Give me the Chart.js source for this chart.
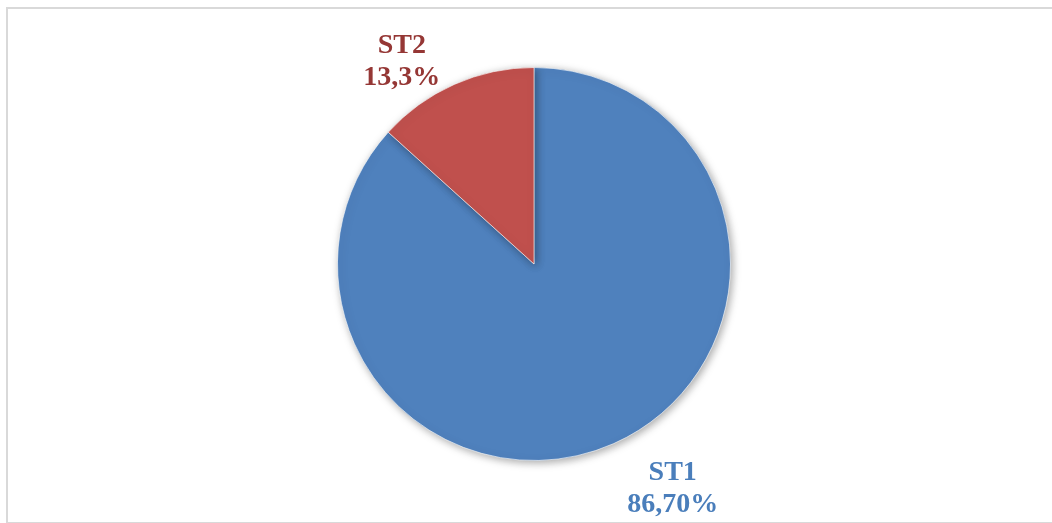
<!DOCTYPE html>
<html lang="en">
<head>
  <meta charset="UTF-8" />
  <title>ST1 / ST2</title>
  <script src="https://cdn.jsdelivr.net/npm/chart.js"></script>
  <style>
    html, body {
      margin: 0;
      padding: 0;
      background: #ffffff;
      overflow: hidden;
      width: 1052px;
      height: 523px;
    }
    .frame {
      position: absolute;
      left: 6px;
      top: 7px;
      width: 1200px;
      height: 513px;
      border-style: solid;
      border-color: #d9d9d9;
      border-width: 2px 0 2px 2px;
    }
    canvas {
      position: absolute;
      left: 0;
      top: 0;
    }
  </style>
</head>
<body>
  <div class="frame"></div>
  <canvas id="pieChart" width="1052" height="523"></canvas>

  <script>
    const labels = ['ST1', 'ST2'];
    const values = [86.7, 13.3];
    const valueTexts = ['86,70%', '13,3%'];
    const sliceColors = ['#4f81bd', '#c0504d'];
    const textColors = ['#4a7ebb', '#953735'];

    // ombre douce sous le camembert
    const shadowPlugin = {
      id: 'pieShadow',
      beforeDatasetDraw(chart) {
        const ctx = chart.ctx;
        ctx.save();
        ctx.shadowColor = 'rgba(0,0,0,0.35)';
        ctx.shadowBlur = 9;
        ctx.shadowOffsetX = 2;
        ctx.shadowOffsetY = 2;
      },
      afterDatasetDraw(chart) {
        chart.ctx.restore();
      }
    };

    // étiquettes à l'extérieur des parts
    const labelShift = [-0.137, -0.158];
    const labelDist = [1.34, 1.235];
    const outsideLabels = {
      id: 'outsideLabels',
      afterDatasetsDraw(chart) {
        const ctx = chart.ctx;
        const meta = chart.getDatasetMeta(0);
        ctx.save();
        ctx.font = 'bold 28px "Liberation Serif", serif';
        ctx.textAlign = 'center';
        ctx.textBaseline = 'middle';
        meta.data.forEach((arc, i) => {
          const mid = (arc.startAngle + arc.endAngle) / 2 + labelShift[i];
          const dist = arc.outerRadius * labelDist[i];
          const x = arc.x + Math.cos(mid) * dist;
          const y = arc.y + Math.sin(mid) * dist;
          ctx.fillStyle = textColors[i];
          ctx.fillText(labels[i], x, y - 15);
          ctx.fillText(valueTexts[i], x, y + 17);
        });
        ctx.restore();
      }
    };

    new Chart(document.getElementById('pieChart').getContext('2d'), {
      type: 'pie',
      data: {
        labels: labels,
        datasets: [{
          data: values,
          backgroundColor: sliceColors,
          borderColor: 'rgba(255,255,255,0.6)',
          borderWidth: 1
        }]
      },
      options: {
        responsive: false,
        animation: false,
        layout: {
          padding: { top: 67, bottom: 62, left: 16, right: 0 }
        },
        plugins: {
          legend: { display: false },
          tooltip: { enabled: false }
        }
      },
      plugins: [shadowPlugin, outsideLabels]
    });
  </script>
</body>
</html>
